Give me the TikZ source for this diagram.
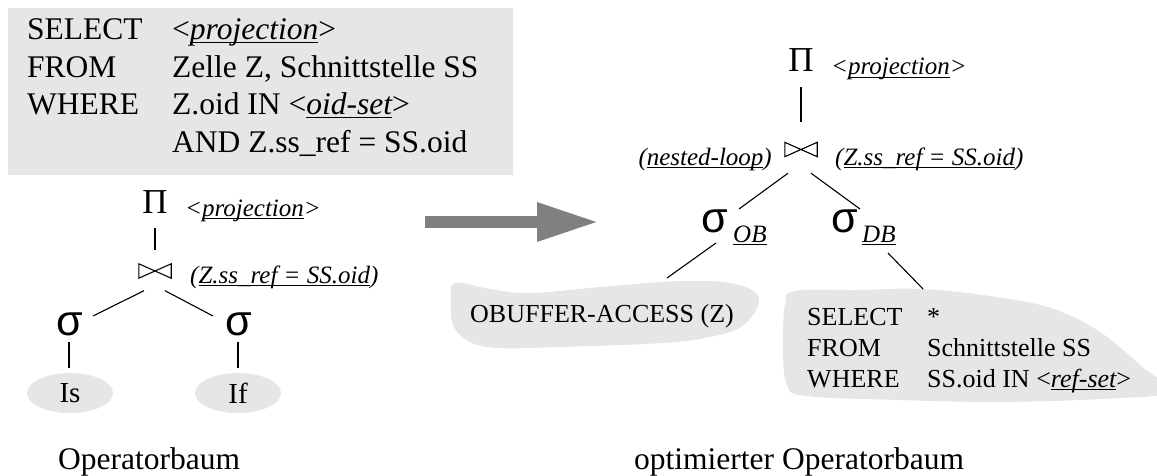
\documentclass[tikz,border=0pt]{standalone}
\usepackage{fontspec}
\setmainfont{Liberation Serif}
\newfontfamily\sigfont{Liberation Sans}
\usetikzlibrary{shapes.geometric,arrows.meta}
\definecolor{blobgray}{HTML}{E6E6E6}
\definecolor{arrowgray}{HTML}{808080}
\newcommand\ulx[1]{\begingroup\setbox0\hbox{#1}\rlap{\rule[-3pt]{\wd0}{1.2pt}}\box0\endgroup}
\tikzset{
  bigtxt/.style={inner sep=0pt, font=\fontsize{31.5}{37.5}\selectfont},
  midtxt/.style={inner sep=0pt, font=\fontsize{26}{31}\selectfont},
  lbl/.style={inner sep=0pt, font=\fontsize{25}{30}\selectfont\itshape},
  sig/.style={inner sep=0pt, font=\sigfont\fontsize{43}{50}\selectfont, anchor=base},
  pinode/.style={inner sep=0pt, font=\fontsize{35}{42}\selectfont, anchor=base},
  joinbox/.style={inner sep=0pt, minimum width=32pt, minimum height=14pt},
  leaf/.style={ellipse, fill=blobgray, inner sep=0pt, minimum width=86pt, minimum height=40pt, font=\fontsize{29}{34}\selectfont},
  conn/.style={line width=1.1pt},
  bigarrow/.style={line width=12pt, draw=arrowgray, -{Triangle[length=62pt,width=36pt]}}
}
\begin{document}
\begin{tikzpicture}[x=1pt,y=1pt]
\useasboundingbox (0,0) rectangle (1157,-476);

% SQL box
\fill[blobgray] (8,-8) rectangle (513,-175);
\node[bigtxt, anchor=base west] (sql) at (27,-40) {\begin{tabular}[t]{@{}p{145pt}@{}l@{}}
SELECT & <\textit{\ulx{projection}}>\\
FROM & Zelle Z, Schnittstelle SS\\
WHERE & Z.oid IN <\textit{\ulx{oid-set}}>\\
 & AND Z.ss\_ref = SS.oid
\end{tabular}};

% left tree
\node[pinode] (p1) at (155,-213) {Π};
\node[lbl, anchor=base west] (p1l) at (185,-216) {<\ulx{projection}>};
\node[joinbox] (j1) at (155,-271) {};
\draw[conn] (j1.north west) -- (j1.south west) -- (j1.north east) -- (j1.south east) -- cycle;
\node[lbl, anchor=base west] (j1l) at (190,-283) {(\ulx{Z.ss\_ref = SS.oid})};
\node[sig] (s1) at (70,-335) {σ};
\node[sig] (s2) at (239,-335) {σ};
\node[leaf] (e1) at (70,-393) {Is};
\node[leaf] (e2) at (238,-393) {If};
\draw[conn] ([yshift=-15pt]p1.base) -- ([yshift=14pt]j1.north);
\draw[conn] ([xshift=-11pt,yshift=-12.5pt]j1.south) -- ([xshift=23pt,yshift=19pt]s1.base);
\draw[conn] ([xshift=10pt,yshift=-12.5pt]j1.south) -- ([xshift=-26pt,yshift=19pt]s2.base);
\draw[conn] ([xshift=-1pt,yshift=-7pt]s1.base) -- ([xshift=-1pt,yshift=5pt]e1.north);
\draw[conn] ([xshift=-1pt,yshift=-7pt]s2.base) -- ([yshift=5pt]e2.north);
\node[bigtxt, anchor=base west] (cap1) at (58,-469) {Operatorbaum};

% transformation arrow
\coordinate (a1) at (425,-222);
\coordinate (a2) at (599,-222);
\draw[bigarrow] (a1) -- (a2);

% right tree
\fill[blobgray] plot[smooth cycle, tension=0.6] coordinates {(455,-283) (490,-289) (530,-293) (600,-287) (680,-281) (730,-283) (756,-293) (757,-308) (741,-327) (710,-337) (663,-343) (560,-347) (497,-348) (468,-341) (453,-325) (451,-300)};
\fill[blobgray] plot[smooth cycle, tension=0.6] coordinates {(795,-291) (860,-290) (923,-289) (997,-297) (1054,-309) (1100,-332) (1140,-365) (1168,-392) (1100,-399) (997,-402) (900,-400) (806,-396) (787,-385) (783,-350) (785,-305)};

\node[pinode] (p2) at (801,-72) {Π};
\node[lbl, anchor=base west] (p2l) at (831,-75) {<\ulx{projection}>};
\node[joinbox] (j2) at (801,-149.5) {};
\draw[conn] (j2.north west) -- (j2.south west) -- (j2.north east) -- (j2.south east) -- cycle;
\node[lbl, anchor=base east] (j2a) at (772,-165) {(\ulx{nested-loop})};
\node[lbl, anchor=base west] (j2b) at (835,-165) {(\ulx{Z.ss\_ref = SS.oid})};
\node[sig] (so) at (715,-233) {σ};
\node[lbl, anchor=base west] (sol) at (733,-242) {\ulx{OB}};
\node[sig] (sd) at (845,-233) {σ};
\node[lbl, anchor=base west] (sdl) at (862,-242) {\ulx{DB}};
\node[midtxt, anchor=base west] (ob) at (470,-322) {OBUFFER-ACCESS (Z)};
\node[midtxt, anchor=base west] (db) at (807,-325) {\begin{tabular}[t]{@{}p{120pt}@{}l@{}}
SELECT & *\\
FROM & Schnittstelle SS\\
WHERE & SS.oid IN <\textit{\ulx{ref-set}}>
\end{tabular}};
\draw[conn] ([yshift=-15pt]p2.base) -- ([yshift=20.5pt]j2.north);
\draw[conn] ([xshift=-13pt,yshift=-16.5pt]j2.south) -- ([xshift=24pt,yshift=24pt]so.base);
\draw[conn] ([xshift=10pt,yshift=-16.5pt]j2.south) -- ([xshift=15pt,yshift=24pt]sd.base);
\draw[conn] ([xshift=1pt,yshift=-10pt]so.base) -- ([xshift=197pt,yshift=44pt]ob.base west);
\draw[conn] ([xshift=43pt,yshift=-20pt]sd.base) -- ([xshift=116pt,yshift=36pt]db.base west);
\node[bigtxt, anchor=base west] (cap2) at (634,-469) {optimierter Operatorbaum};
\end{tikzpicture}
\end{document}
